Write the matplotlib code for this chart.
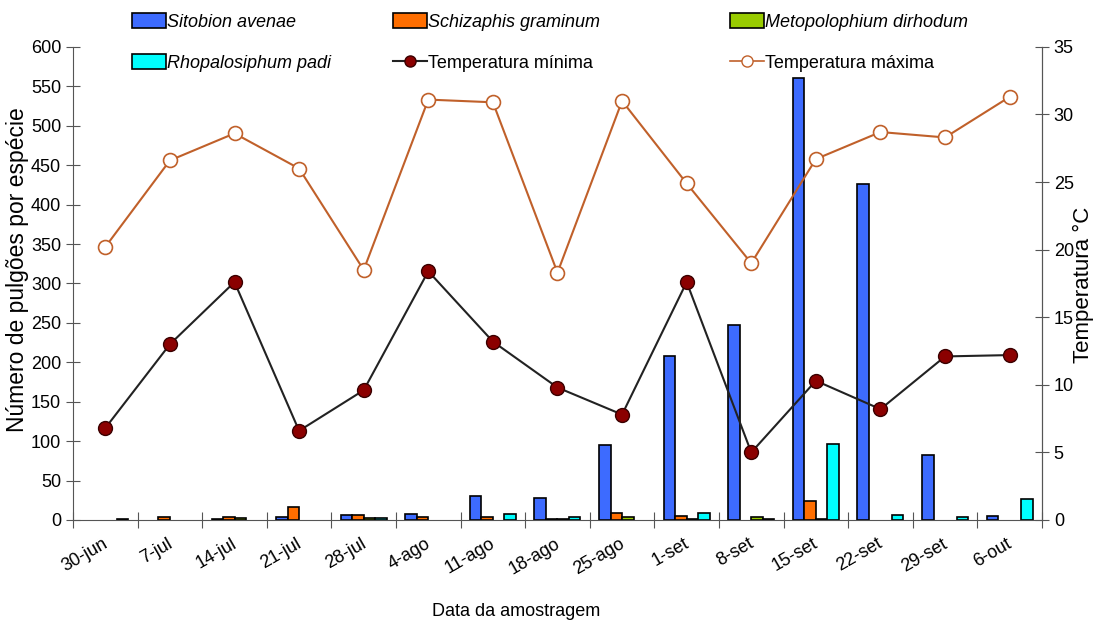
import numpy as np
import matplotlib.pyplot as plt
from matplotlib.patches import Patch
from matplotlib.lines import Line2D

plt.rcParams['font.family'] = ['Liberation Sans', 'DejaVu Sans']

# datas de amostragem
datas = ['30-jun', '7-jul', '14-jul', '21-jul', '28-jul', '4-ago', '11-ago', '18-ago',
         '25-ago', '1-set', '8-set', '15-set', '22-set', '29-set', '6-out']

# numero de pulgoes por especie
sitobion = [0, 0, 1, 4, 6, 8, 31, 28, 95, 208, 247, 561, 426, 82, 5]
schizaphis = [0, 4, 4, 16, 6, 4, 4, 1, 9, 5, 0, 24, 0, 0, 0]
metopolophium = [0, 0, 2, 0, 3, 0, 0, 1, 4, 1, 4, 1, 0, 0, 0]
rhopalosiphum = [1, 0, 0, 0, 3, 0, 8, 4, 0, 9, 1, 96, 6, 4, 27]

# temperaturas (C)
t_min = [6.8, 13.0, 17.6, 6.6, 9.6, 18.4, 13.2, 9.8, 7.8, 17.6, 5.0, 10.3, 8.2, 12.1, 12.2]
t_max = [20.2, 26.6, 28.6, 26.0, 18.5, 31.1, 30.9, 18.3, 31.0, 24.9, 19.0, 26.7, 28.7, 28.3, 31.3]

cores = ['#3D6BFF', '#FF6E00', '#99CC00', '#00FFFF']
nomes = ['Sitobion avenae', 'Schizaphis graminum', 'Metopolophium dirhodum', 'Rhopalosiphum padi']
series = [sitobion, schizaphis, metopolophium, rhopalosiphum]
cinza = '#555555'

fig = plt.figure(figsize=(10.93, 6.25), dpi=100)
ax = fig.add_axes([0.0668, 0.168, 0.8865, 0.757])
x = np.arange(len(datas))
w = 0.178
for i, (s, c) in enumerate(zip(series, cores)):
    s = np.array(s, dtype=float)
    s[s == 0] = np.nan  # zeros nao aparecem
    ax.bar(x + (i - 1.5) * w, s, width=w, color=c, edgecolor='black', linewidth=1.2, zorder=2)

ax.set_xlim(-0.5, len(datas) - 0.5)
ax.set_ylim(0, 600)
ax.set_yticks(np.arange(0, 601, 50))
ax.set_xticks(np.arange(-0.5, len(datas), 1))
ax.set_xticklabels([])
ax.set_xticks(x + 0.08, minor=True)
ax.set_xticklabels(datas, minor=True, rotation=30, ha='right', va='top', fontsize=13)
ax.tick_params(axis='x', which='minor', length=0, pad=11)
ax.tick_params(axis='x', which='major', direction='inout', length=12, color=cinza)
ax.tick_params(axis='y', direction='inout', length=10, labelsize=13, color=cinza)
ax.spines['top'].set_visible(False)
for sp in ['left', 'bottom', 'right']:
    ax.spines[sp].set_color(cinza)

ax2 = ax.twinx()
ax2.set_ylim(0, 35)
ax2.set_yticks(np.arange(0, 36, 5))
ax2.tick_params(axis='y', direction='inout', length=10, labelsize=13, color=cinza)
ax2.spines['top'].set_visible(False)
ax2.spines['right'].set_color(cinza)
ax2.spines['left'].set_visible(False)
ax2.spines['bottom'].set_visible(False)
ax2.plot(x, t_max, color='#C0602A', lw=1.5, marker='o', ms=10, mfc='white', mec='#C0602A', mew=1.2, zorder=3)
ax2.plot(x, t_min, color='#222222', lw=1.5, marker='o', ms=10, mfc='#8B0000', mec='#3a0000', mew=1, zorder=4)

# rotulos dos eixos
fig.text(18 / 1093, 1 - 270 / 625, 'Número de pulgões por espécie', rotation=90,
         ha='center', va='center', fontsize=16.5)
fig.text(1083 / 1093, 1 - 285 / 625, 'Temperatura °C', rotation=90,
         ha='center', va='center', fontsize=16)
fig.text(516 / 1093, 1 - 612 / 625, 'Data da amostragem', ha='center', va='center', fontsize=13)

# legenda: tres colunas
def caixa(c):
    return Patch(facecolor=c, edgecolor='black', lw=1.2)

colunas = [
    ([caixa(cores[0]), caixa(cores[3])], [nomes[0], nomes[3]], 132),
    ([caixa(cores[1]),
      Line2D([], [], color='#222222', marker='o', ms=8, mfc='#8B0000', mec='#3a0000', lw=1.5)],
     [nomes[1], 'Temperatura mínima'], 393),
    ([caixa(cores[2]),
      Line2D([], [], color='#C0602A', marker='o', ms=8, mfc='white', mec='#C0602A', lw=1.2)],
     [nomes[2], 'Temperatura máxima'], 730),
]
for hs, ls, px in colunas:
    leg = fig.legend(hs, ls, loc='upper left', bbox_to_anchor=(px / 1093, 0.979),
                     frameon=False, fontsize=13, handlelength=1.9, handleheight=0.9,
                     handletextpad=0.05, labelspacing=1.3, borderpad=0, borderaxespad=0)
    for t, l in zip(leg.get_texts(), ls):
        if not l.startswith('Temperatura'):
            t.set_style('italic')

fig.savefig('out.png', dpi=100)
